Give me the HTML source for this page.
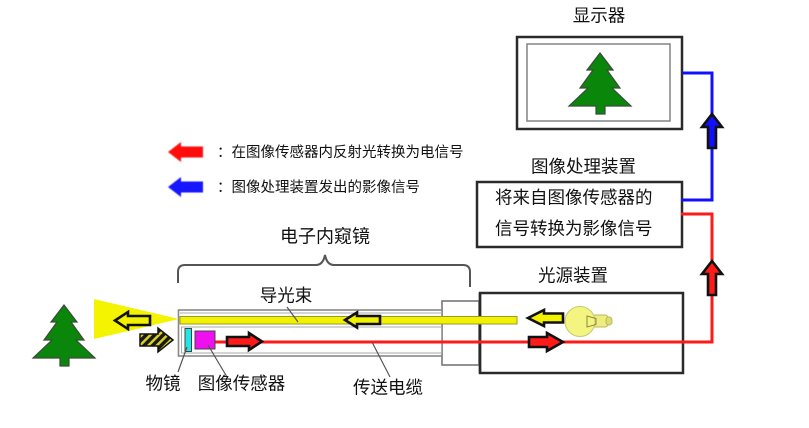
<!DOCTYPE html>
<html><head><meta charset="utf-8"><style>
html,body{margin:0;padding:0;background:#fff;}
svg{display:block;}
text{font-family:"Liberation Sans","Noto Sans CJK SC",sans-serif;fill:#111;}
</style></head><body>
<svg width="809" height="428" viewBox="0 0 809 428" xmlns="http://www.w3.org/2000/svg">
<defs>
<pattern id="hatch" patternUnits="userSpaceOnUse" width="6" height="6" patternTransform="rotate(45)">
<rect width="6" height="6" fill="#1a1a1a"/>
<rect width="2.5" height="6" fill="#d8d020"/>
</pattern>
<filter id="blur1"><feGaussianBlur stdDeviation="0.6"/></filter>
</defs>

<!-- Legend -->
<polygon points="168,152 181,142 181,146.5 203,146.5 203,157.5 181,157.5 181,162" fill="#ff1010" filter="url(#blur1)"/>
<polygon points="168,187 181,177 181,181.5 203,181.5 203,192.5 181,192.5 181,197" fill="#1818ff" filter="url(#blur1)"/>
<text x="217" y="157" font-size="14.5">：在图像传感器内反射光转换为电信号</text>
<text x="217" y="192" font-size="14.5">：图像处理装置发出的影像信号</text>

<!-- Display -->
<text x="599" y="21.5" font-size="17.5" text-anchor="middle">显示器</text>
<rect x="517" y="37" width="165" height="92" fill="#fff" stroke="#2a2a2a" stroke-width="2.5"/>
<rect x="527" y="44" width="143" height="77" fill="#fff" stroke="#8a8a8a" stroke-width="1.6"/>
<g transform="translate(536,-252)">
<polygon points="64,305 77,322 71,322 84,340 76,340 95,358 69,358 69,366 60,366 60,358 33,358 52,340 44,340 57,322 51,322" fill="#0a870a" stroke="#3a4a3a" stroke-width="1.2"/>
</g>

<!-- Image processing -->
<text x="583.5" y="172.5" font-size="17.5" text-anchor="middle">图像处理装置</text>
<rect x="477" y="182" width="205" height="65" fill="#fff" stroke="#2a2a2a" stroke-width="2.5"/>
<text x="495" y="203.5" font-size="17.5">将来自图像传感器的</text>
<text x="495" y="234.5" font-size="17.5">信号转换为影像信号</text>

<!-- Blue line -->
<path d="M682,73 H712 V200 H681" fill="none" stroke="#1010ff" stroke-width="3"/>
<polygon points="712,114 722,127 716,127 716,148 708,148 708,127 702,127" fill="#1010ff" stroke="#111" stroke-width="2.6" stroke-linejoin="miter"/>

<!-- Red line -->
<path d="M681,214 H712 V342 H215" fill="none" stroke="#ff1a1a" stroke-width="3"/>
<polygon points="712,261 722,274 716,274 716,295 708,295 708,274 702,274" fill="#ff1a1a" stroke="#111" stroke-width="2.6"/>

<!-- Brace -->
<path d="M178,283 V272 Q178,265 185,265 H316 Q323,265 325,255 Q327,265 334,265 H463 Q470,265 470,272 V287" fill="none" stroke="#555" stroke-width="2"/>
<text x="325" y="242.5" font-size="18" text-anchor="middle">电子内窥镜</text>

<!-- Light source -->
<text x="573" y="281.5" font-size="17.5" text-anchor="middle">光源装置</text>
<rect x="480" y="293" width="203" height="80" fill="#fff" stroke="#2a2a2a" stroke-width="2.5"/>
<rect x="442" y="301" width="37" height="64" fill="#fff" stroke="#777" stroke-width="1.6"/>

<!-- Tube -->
<rect x="178.5" y="310" width="263.5" height="46" fill="#fff" stroke="#888" stroke-width="1.6"/>
<line x1="180" y1="313" x2="442" y2="313" stroke="#aaa" stroke-width="1"/>
<rect x="181.5" y="327" width="260" height="26" fill="none" stroke="#aaa" stroke-width="1"/>
<line x1="480" y1="293" x2="480" y2="373" stroke="#2a2a2a" stroke-width="2.5"/>
<!-- yellow bar -->
<rect x="180" y="316.5" width="337" height="7.5" fill="#f2f200" stroke="#9a9a30" stroke-width="1"/>
<line x1="215" y1="342" x2="712" y2="342" stroke="#ff1a1a" stroke-width="3"/>

<!-- lens & sensor -->
<rect x="185" y="328.5" width="6.5" height="23" fill="#22e6e6" stroke="#444" stroke-width="1"/>
<rect x="195" y="331" width="20" height="18" fill="#ee10ee" stroke="#444" stroke-width="1"/>

<!-- tube arrows -->
<polygon points="262,341.5 249,333 249,337 227,337 227,346 249,346 249,350" fill="#ff1a1a" stroke="#111" stroke-width="2.6"/>
<polygon points="345,320 357,312.5 357,316 380,316 380,324 357,324 357,327.5" fill="#f2f200" stroke="#111" stroke-width="2.6"/>

<!-- light source arrows & bulb -->
<polygon points="528,318 544,310 544,313.5 563,313.5 563,322.5 544,322.5 544,326" fill="#f2f200" stroke="#111" stroke-width="2.6"/>
<polygon points="563,342 547,333 547,337 529,337 529,347 547,347 547,351" fill="#ff1a1a" stroke="#111" stroke-width="2.6"/>
<rect x="592" y="315" width="16" height="12" rx="3" fill="#eeee80" stroke="#b8b860" stroke-width="1"/>
<rect x="606" y="317" width="6" height="8" rx="3" fill="#dede70" stroke="#b8b860" stroke-width="1"/>
<circle cx="580" cy="321.5" r="15" fill="#f4f480" stroke="#c8c870" stroke-width="1"/>
<polygon points="587,316 596,318.5 596,324.5 587,327" fill="none" stroke="#8a8a40" stroke-width="1"/>

<!-- Left tree -->
<polygon points="64,305 77,322 71,322 84,340 76,340 95,358 69,358 69,366 60,366 60,358 33,358 52,340 44,340 57,322 51,322" fill="#0a870a" stroke="#3a4a3a" stroke-width="1.2"/>

<!-- Yellow light cone -->
<polygon points="94,299 179,319 94,339" fill="#f4f400"/>
<polygon points="115,320.5 128,312 128,316 150,316 150,325 128,325 128,329" fill="#f2f200" stroke="#111" stroke-width="2.6"/>

<!-- Hatched arrow -->
<polygon points="173,340 158,328 158,334 140,334 140,346 158,346 158,352" fill="url(#hatch)" stroke="#111" stroke-width="1.5"/>

<!-- leader lines -->
<line x1="287" y1="307" x2="298" y2="322" stroke="#555" stroke-width="1.2"/>
<line x1="187" y1="347" x2="178" y2="372" stroke="#555" stroke-width="1.2"/>
<line x1="208" y1="345" x2="227" y2="377" stroke="#555" stroke-width="1.2"/>
<line x1="372" y1="342" x2="390" y2="377" stroke="#555" stroke-width="1.2"/>

<!-- labels -->
<text x="286" y="301.5" font-size="17.5" text-anchor="middle">导光束</text>
<text x="163" y="389.5" font-size="17.5" text-anchor="middle">物镜</text>
<text x="241.5" y="389.5" font-size="17.5" text-anchor="middle">图像传感器</text>
<text x="388" y="393.5" font-size="17.5" text-anchor="middle">传送电缆</text>
</svg>
</body></html>
